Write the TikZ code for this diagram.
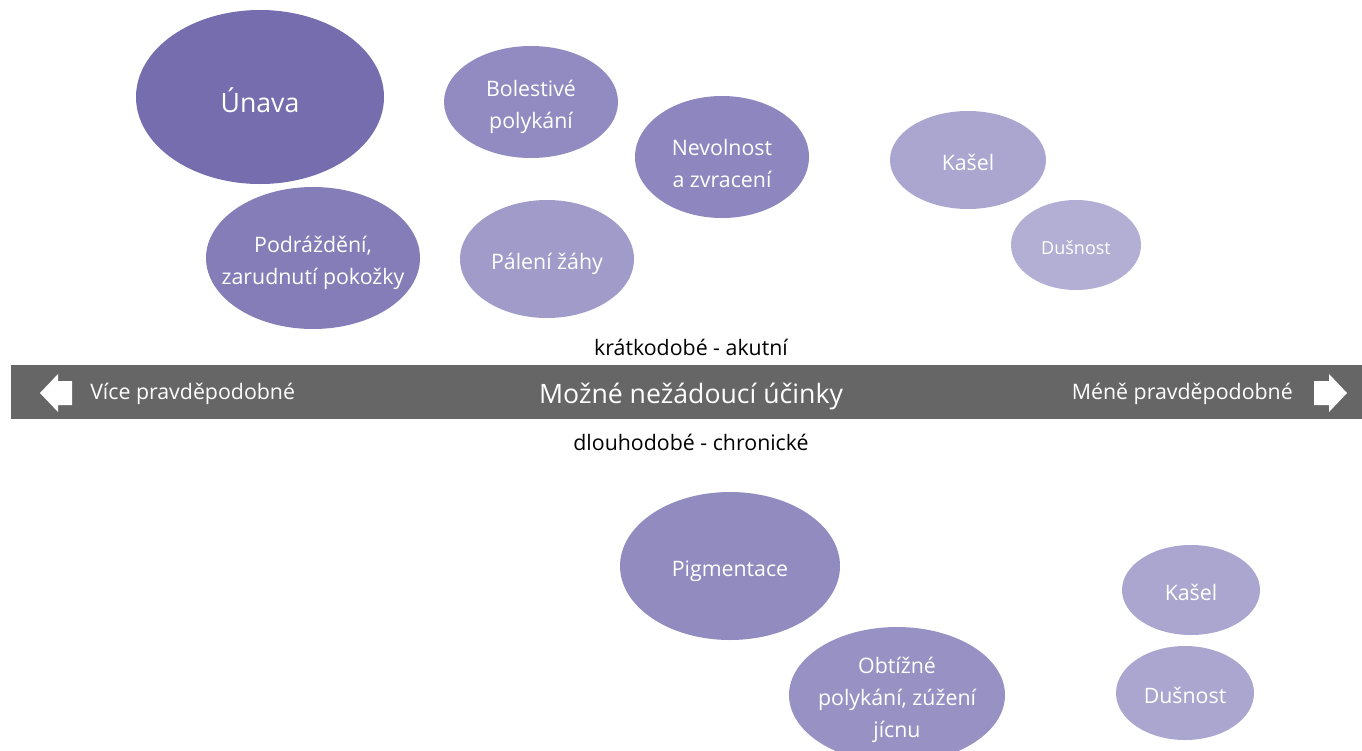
\documentclass[tikz,border=0pt]{standalone}
\usepackage{fontspec}
\setmainfont{Open Sans}
\usetikzlibrary{shapes.geometric}
\definecolor{cA}{HTML}{756DAE}
\definecolor{cB}{HTML}{857DB8}
\definecolor{cC}{HTML}{928BC1}
\definecolor{cD}{HTML}{8E87BF}
\definecolor{cE}{HTML}{A19BCA}
\definecolor{cF}{HTML}{ABA6CF}
\definecolor{cG}{HTML}{B3AED4}
\definecolor{cH}{HTML}{918BBF}
\definecolor{cI}{HTML}{9891C4}
\definecolor{barc}{HTML}{666666}
\tikzset{
  bub/.style args={#1/#2/#3}{ellipse, inner sep=0pt, fill=#1, draw=none,
    minimum width=#2*0.75pt, minimum height=#3*0.75pt},
  btxt/.style={inner sep=0pt, text=white, align=center, text depth=0pt, yshift=-2pt,
    font=\fontsize{16}{24}\selectfont},
  lbl/.style={font=\fontsize{16}{19}\selectfont, text=black},
  bartxt/.style={inner sep=0pt, font=\fontsize{16}{19}\selectfont, text=white}
}
\begin{document}
\begin{tikzpicture}[x=0.75pt,y=-0.75pt]
\useasboundingbox (0,0) rectangle (1362,750);
\clip (0,0) rectangle (1362,750);
% bar
\fill[barc] (11,365) rectangle (1362,419);
\node[bartxt, font=\fontsize{20}{24}\selectfont] (title) at (691,396) {Možné nežádoucí účinky};
\node[bartxt, anchor=west] (more) at (90,394) {Více pravděpodobné};
\node[bartxt, anchor=east] (less) at (1293,394) {Méně pravděpodobné};
\fill[white] (40,393) -- (58,374) -- (58,381) -- (72,381) -- (72,405) -- (58,405) -- (58,412) -- cycle;
\fill[white] (1347,393) -- (1329,374) -- (1329,381) -- (1314,381) -- (1314,405) -- (1329,405) -- (1329,412) -- cycle;
\node[lbl] (acute) at (691,347) {krátkodobé - akutní};
\node[lbl] (chronic) at (691,442) {dlouhodobé - chronické};
% top ellipses
\node[bub=cA/248/174] (unava) at (260,97) {};
\node[btxt, font=\fontsize{20}{24}\selectfont] (unavat) at (unava) {Únava};
\node[bub=cC/174/112] (bol) at (531,102) {};
\node[btxt] (bolt) at (bol) {Bolestivé\\polykání};
\node[bub=cD/174/122] (nev) at (722,157) {};
\node[btxt, yshift=-3pt] (nevt) at (nev) {Nevolnost\\a zvracení};
\node[bub=cF/156/98] (kas1) at (968,160) {};
\node[btxt] (kas1t) at (kas1) {Kašel};
\node[bub=cG/130/90] (dus1) at (1076,245) {};
\node[btxt, font=\fontsize{13.5}{16}\selectfont] (dus1t) at (dus1) {Dušnost};
\node[bub=cB/214/142] (pod) at (313,258) {};
\node[btxt] (podt) at (pod) {Podráždění,\\zarudnutí pokožky};
\node[bub=cE/174/118] (pal) at (547,259) {};
\node[btxt] (palt) at (pal) {Pálení žáhy};
% bottom ellipses
\node[bub=cH/220/148] (pig) at (730,566) {};
\node[btxt] (pigt) at (pig) {Pigmentace};
\node[bub=cI/216/136] (obt) at (897,695) {};
\node[btxt] (obtt) at (obt) {Obtížné\\polykání, zúžení\\jícnu};
\node[bub=cF/138/90] (kas2) at (1191,590) {};
\node[btxt] (kas2t) at (kas2) {Kašel};
\node[bub=cF/138/94] (dus2) at (1185,693) {};
\node[btxt] (dus2t) at (dus2) {Dušnost};
\end{tikzpicture}
\end{document}
